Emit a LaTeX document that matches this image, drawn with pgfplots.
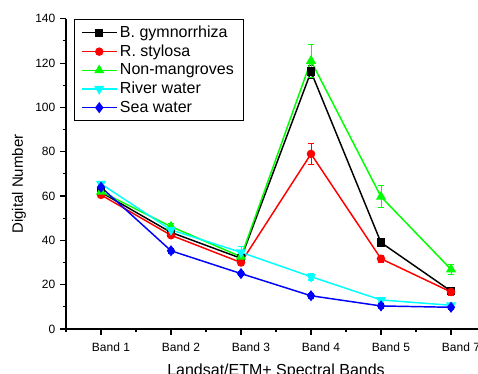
\documentclass[border=0pt]{standalone}
\usepackage{pgfplots}
\pgfplotsset{compat=1.18}
\usepackage{fontspec}
\setmainfont{Liberation Sans}
\definecolor{cgreen}{RGB}{0,255,0}
\definecolor{ccyan}{RGB}{0,255,255}
\definecolor{cblue}{RGB}{0,0,255}
\definecolor{cred}{RGB}{255,0,0}
\begin{document}
\begin{tikzpicture}
\begin{axis}[
  at={(0,0)}, anchor=south west,
  scale only axis, width=315pt, height=232.7pt,
  xmin=0.5, xmax=6.5, ymin=0, ymax=140,
  axis x line*=bottom, axis y line*=left,
  axis line style={line width=0.8pt, -},
  xtick={1,2,3,4,5,6},
  xticklabels={Band 1,Band 2,Band 3,Band 4,Band 5,Band 7},
  minor xtick={0.5,1.5,2.5,3.5,4.5,5.5},
  ytick={0,20,...,140}, minor y tick num=1,
  tick align=outside,
  major tick length=4.5pt, minor tick length=2.5pt,
  tick style={line width=0.8pt, black},
  /pgf/number format/assume math mode=true,
  ticklabel style={font=\fontsize{9}{10}\selectfont},
  xticklabel style={xshift=7.5pt, yshift=-2pt},
  xlabel={Landsat/ETM+ Spectral Bands},
  ylabel={Digital Number},
  xlabel style={font=\fontsize{12}{14}\selectfont, at={(axis description cs:0.5,-0.097)}, anchor=north},
  ylabel style={font=\fontsize{11.25}{13}\selectfont, at={(axis description cs:-0.112,0.467)}, anchor=center},
  legend style={at={(0.019,1)}, anchor=north west, draw=black, line width=0.8pt,
    font=\fontsize{12}{13}\selectfont, row sep=0pt, inner xsep=5pt, inner ysep=3pt},
  legend cell align=left,
  legend image code/.code={\draw[mark repeat=2,mark phase=2] plot coordinates {(0pt,0pt)(13pt,0pt)(26pt,0pt)};},
  every axis plot/.append style={line width=1.1pt},
  error bars/y dir=both, error bars/y explicit,
  error bars/error mark options={rotate=90, mark size=2.25pt, line width=0.8pt},
]
\addplot[black, mark=square*, mark size=2.6pt] coordinates {
 (1,61.7) +- (0,1) (2,43.6) +- (0,1.2) (3,31.9) +- (0,1.5) (4,116.1) +- (0,3) (5,39) +- (0,1.5) (6,17.1) +- (0,1.5)};
\addlegendentry{B. gymnorrhiza\hspace{9pt}}
\addplot[cred, mark=*, mark size=2.6pt] coordinates {
 (1,60.5) +- (0,1) (2,42.3) +- (0,1.2) (3,30) +- (0,1.2) (4,79) +- (0,4.9) (5,31.7) +- (0,1.5) (6,16.7) +- (0,1.5)};
\addlegendentry{R. stylosa}
\addplot[cgreen, mark=triangle*, mark size=3.3pt] coordinates {
 (1,62) +- (0,1) (2,46.2) +- (0,1.2) (3,32.6) +- (0,1.5) (4,121) +- (0,7.5) (5,59.7) +- (0,4.9) (6,26.9) +- (0,2.3)};
\addlegendentry{Non-mangroves}
\addplot[ccyan, mark=triangle*, mark options={rotate=180}, mark size=3.3pt] coordinates {
 (1,65.5) +- (0,1) (2,44.7) +- (0,1) (3,34.6) +- (0,2.5) (4,23.6) +- (0,1.5) (5,13.1) +- (0,1) (6,10.7) +- (0,1)};
\addlegendentry{River water}
\addplot[cblue, mark=diamond*, mark size=3.3pt] coordinates {
 (1,64) +- (0,1) (2,35.3) +- (0,1) (3,25) +- (0,1) (4,15) +- (0,1) (5,10.4) +- (0,1) (6,9.8) +- (0,1)};
\addlegendentry{Sea water}
\end{axis}
\pgfresetboundingbox
\path[use as bounding box] (-49.5pt,-33.75pt) rectangle (309pt,246.75pt);
\end{tikzpicture}
\end{document}
